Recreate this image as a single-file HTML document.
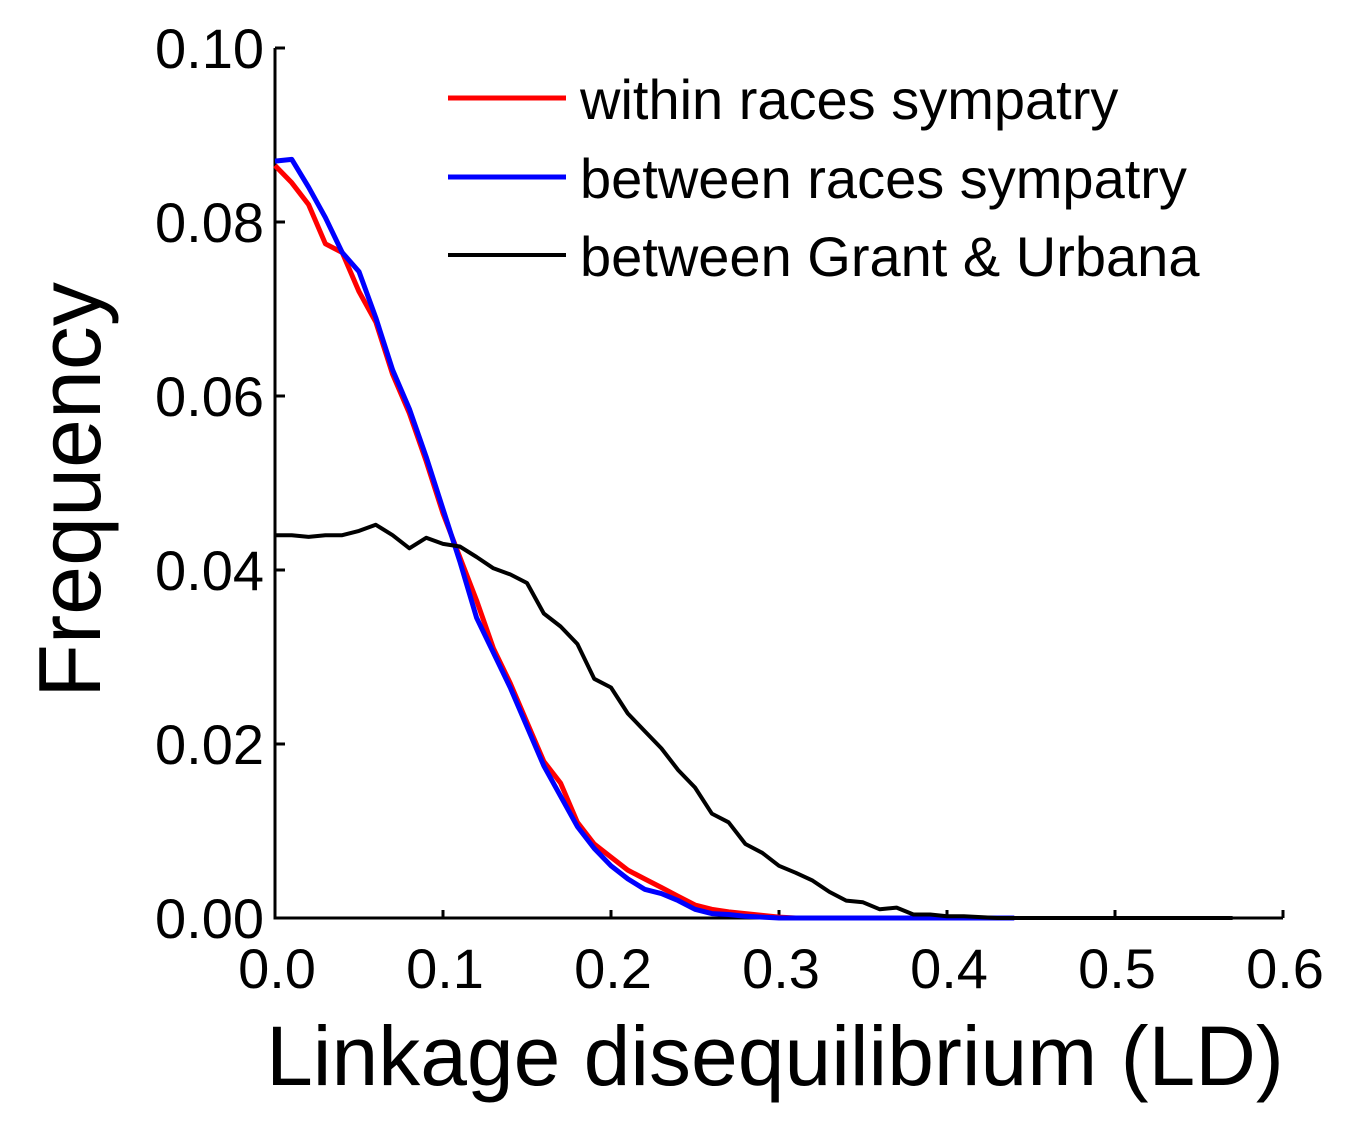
<!DOCTYPE html>
<html><head><meta charset="utf-8"><style>
html,body{margin:0;padding:0;background:#fff;}
svg text{font-family:"Liberation Sans",sans-serif;fill:#000;}
</style></head><body>
<svg width="1356" height="1133" xmlns="http://www.w3.org/2000/svg">
<g id="axes"></g>
<g id="series"></g>
<g id="legend"></g>
<text x="0" y="0" font-size="88" text-anchor="middle" transform="translate(100,490) rotate(-90)">Frequency</text>
<text x="775" y="1085" font-size="84" text-anchor="middle">Linkage disequilibrium (LD)</text>
</svg>
<script>
const xTicks=[0,0.1,0.2,0.3,0.4,0.5,0.6];
const xTickLabels=["0.0","0.1","0.2","0.3","0.4","0.5","0.6"];
const yTicks=[0,0.02,0.04,0.06,0.08,0.10];
const yTickLabels=["0.00","0.02","0.04","0.06","0.08","0.10"];
const ldBins=[];for(let i=0;i<=57;i++)ldBins.push(+(i*0.01).toFixed(2));
const withinRaces=[0.0865,0.0845,0.082,0.0775,0.0765,0.072,0.0685,0.0625,0.058,0.0525,0.0465,0.0415,0.0365,0.031,0.027,0.0225,0.018,0.0155,0.011,0.0085,0.007,0.0055,0.0045,0.0035,0.0025,0.0015,0.001,0.0007,0.0005,0.0003,0.0001,0,0,0,0,0,0,0,0,0,0,0,0,0,0];
const betweenRaces=[0.087,0.0872,0.084,0.0805,0.0765,0.0743,0.069,0.063,0.0585,0.053,0.047,0.041,0.0345,0.0305,0.0265,0.022,0.0175,0.014,0.0105,0.008,0.006,0.0045,0.0033,0.0028,0.002,0.001,0.0005,0.0004,0.0002,0.0001,0,0,0,0,0,0,0,0,0,0,0,0,0,0,0];
const grantUrbana=[0.044,0.044,0.0438,0.044,0.044,0.0445,0.0452,0.044,0.0425,0.0437,0.043,0.0427,0.0415,0.0402,0.0395,0.0385,0.035,0.0335,0.0315,0.0275,0.0265,0.0235,0.0215,0.0195,0.017,0.015,0.012,0.011,0.0085,0.0075,0.006,0.0052,0.0043,0.003,0.002,0.0018,0.001,0.0012,0.0004,0.0004,0.0002,0.0002,0.0001,0,0,0,0,0,0,0,0,0,0,0,0,0,0,0];
const seriesNames=["within races sympatry","between races sympatry","between Grant & Urbana"];
const seriesColors=["#ff0000","#0000ff","#000000"];
const seriesWidths=[5,5,4];
const NS="http://www.w3.org/2000/svg";
const X=v=>275+v*1680, Y=v=>918-v*8700;
function mk(t,a,p){const e=document.createElementNS(NS,t);for(const k in a)e.setAttribute(k,a[k]);p.appendChild(e);return e;}
const ax=document.getElementById('axes');
const sp=mk('path',{d:`M${X(0)} ${Y(0.1)}V${Y(0)}H${X(0.6)}`,stroke:'#000','stroke-width':3,fill:'none'},ax);


xTicks.forEach((v,i)=>{
 const t=mk('line',{x1:X(v),x2:X(v),y1:Y(0),y2:Y(0)-8,stroke:'#000','stroke-width':3},ax);
 
 
 const l=mk('text',{x:X(v)+2,y:988,'font-size':56,'text-anchor':'middle'},ax);l.textContent=xTickLabels[i];
 
 
});
yTicks.forEach((v,i)=>{
 const t=mk('line',{x1:X(0),x2:X(0)+10,y1:Y(v),y2:Y(v),stroke:'#000','stroke-width':3},ax);
 
 
 const l=mk('text',{x:264,y:Y(v)+20,'font-size':56,'text-anchor':'end'},ax);l.textContent=yTickLabels[i];
 
 
});
const sg=document.getElementById('series');
[withinRaces,betweenRaces,grantUrbana].forEach((arr,si)=>{
 const d=arr.map((v,i)=>(i?'L':'M')+X(ldBins[i]).toFixed(1)+' '+Y(v).toFixed(1)).join('');
 const p=mk('path',{d,stroke:seriesColors[si],'stroke-width':seriesWidths[si],fill:'none','stroke-linejoin':'round'},sg);
 
 
});
const lg=document.getElementById('legend');
const ly=[98,177,255];
seriesNames.forEach((n,i)=>{
 const l=mk('line',{x1:448,x2:566,y1:ly[i],y2:ly[i],stroke:seriesColors[i],'stroke-width':seriesWidths[i]},lg);
 
 
 const t=mk('text',{x:580,y:ly[i]+21,'font-size':56},lg);t.textContent=n;
 
 
});
</script>
</body></html>
